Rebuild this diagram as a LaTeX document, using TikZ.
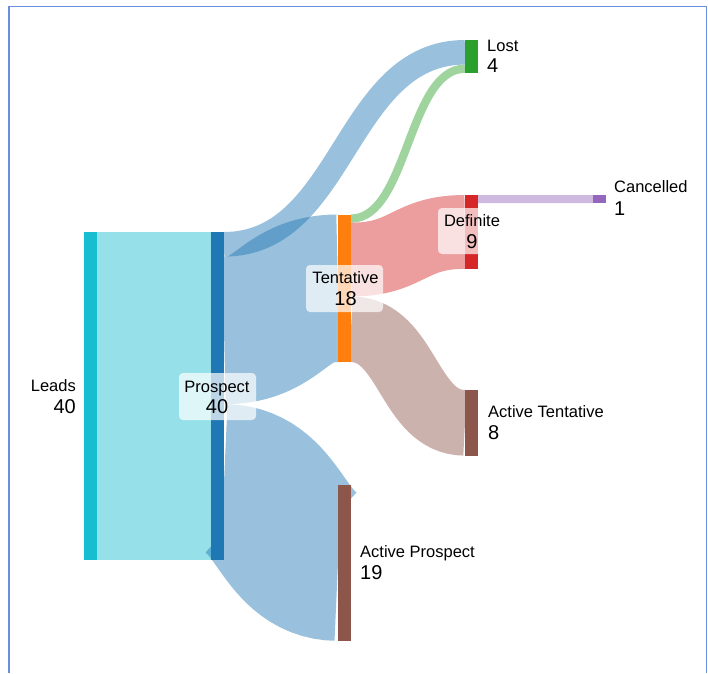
\documentclass[tikz,border=0pt]{standalone}
\usepackage{fontspec}
\setmainfont{Liberation Sans}
\usetikzlibrary{calc}
\definecolor{cLeads}{HTML}{17BECF}
\definecolor{cPros}{HTML}{1F77B4}
\definecolor{cLost}{HTML}{2CA02C}
\definecolor{cTent}{HTML}{FF7F0E}
\definecolor{cDef}{HTML}{D62728}
\definecolor{cCanc}{HTML}{9467BD}
\definecolor{cBrown}{HTML}{8C564B}
\definecolor{cFrame}{HTML}{6A8FDC}
% link: colour, width, source node, position on source, target node, position on target
\newcommand\sankeylink[6]{%
  \path let \p1=($(#3.north east)!#4!(#3.south east)$),
            \p2=($(#5.north west)!#6!(#5.south west)$),
            \p3=($(\p1)!0.5!(\p2)$) in
     [link, draw=#1, line width=#2] (\p1) .. controls (\x3,\y1) and (\x3,\y2) .. (\p2);}
\tikzset{
  bar/.style={rectangle, inner sep=0pt, outer sep=0pt, minimum width=13pt, draw=none},
  link/.style={fill=none, draw opacity=0.45, line cap=butt},
  lblbox/.style={rectangle, rounded corners=4pt, fill=white, fill opacity=0.7, draw=none, inner sep=0pt},
  namelbl/.style={font=\fontsize{16.5}{19}\selectfont, inner sep=0pt, text=black},
  vallbl/.style={font=\fontsize{20}{23}\selectfont, inner sep=0pt, text=black},
  frame/.style={draw=cFrame, line width=1.8pt}
}
\begin{document}
\begin{tikzpicture}[x=1pt,y=-1pt]
\useasboundingbox[fill=white] (0,0) rectangle (708,673);
\draw[frame] (9,673) -- (9,6.5) -- (706.5,6.5) -- (706.5,673);
% bars
\node[bar, fill=cLeads, minimum height=328pt] (leads) at (90.5,396) {};
\node[bar, fill=cPros, minimum height=328pt] (pros) at (217.5,396) {};
\node[bar, fill=cLost, minimum height=32.8pt] (lost) at (471.5,56.4) {};
\node[bar, fill=cTent, minimum height=147.6pt] (tent) at (344.5,288.3) {};
\node[bar, fill=cDef, minimum height=73.8pt] (def) at (471.5,231.9) {};
\node[bar, fill=cCanc, minimum height=8.2pt] (canc) at (599.5,199.1) {};
\node[bar, fill=cBrown, minimum height=65.6pt] (acttent) at (471.5,422.8) {};
\node[bar, fill=cBrown, minimum height=155.8pt] (actpros) at (344.5,562.9) {};
% links
\sankeylink{cLeads}{328pt}{leads}{0.5}{pros}{0.5}
\sankeylink{cPros}{24.6pt}{pros}{0.0375}{lost}{0.375}
\sankeylink{cPros}{147.6pt}{pros}{0.3}{tent}{0.5}
\sankeylink{cPros}{155.8pt}{pros}{0.7625}{actpros}{0.5}
\sankeylink{cLost}{8.2pt}{tent}{0.02778}{lost}{0.875}
\sankeylink{cDef}{73.8pt}{tent}{0.30556}{def}{0.5}
\sankeylink{cBrown}{65.6pt}{tent}{0.77778}{acttent}{0.5}
\sankeylink{cCanc}{8.2pt}{def}{0.05556}{canc}{0.5}
% redraw bars on top of links
\fill[cLeads] (leads.north west) rectangle (leads.south east);
\fill[cPros] (pros.north west) rectangle (pros.south east);
\fill[cLost] (lost.north west) rectangle (lost.south east);
\fill[cTent] (tent.north west) rectangle (tent.south east);
\fill[cDef] (def.north west) rectangle (def.south east);
\fill[cCanc] (canc.north west) rectangle (canc.south east);
\fill[cBrown] (acttent.north west) rectangle (acttent.south east);
\fill[cBrown] (actpros.north west) rectangle (actpros.south east);
% label boxes
\node[lblbox, minimum width=77pt, minimum height=47pt] (prosbox) at (217.5,396.5) {};
\node[lblbox, minimum width=77pt, minimum height=47pt] (tentbox) at (344.5,288.5) {};
\node[lblbox, minimum width=67pt, minimum height=46pt] (defbox) at (471.5,231) {};
% labels
\node[namelbl, anchor=base east] (leadsN) at (76,391) {Leads};
\node[vallbl, anchor=base east] (leadsV) at (76,413) {40};
\node[namelbl, anchor=base] (prosN) at (217,392) {Prospect};
\node[vallbl, anchor=base] (prosV) at (217,413) {40};
\node[namelbl, anchor=base] (tentN) at (345.5,283) {Tentative};
\node[vallbl, anchor=base] (tentV) at (345.5,305) {18};
\node[namelbl, anchor=base] (defN) at (472,226) {Definite};
\node[vallbl, anchor=base] (defV) at (472,248) {9};
\node[namelbl, anchor=base west] (lostN) at (487,51) {Lost};
\node[vallbl, anchor=base west] (lostV) at (487,72) {4};
\node[namelbl, anchor=base west] (cancN) at (614,192) {Cancelled};
\node[vallbl, anchor=base west] (cancV) at (614,215) {1};
\node[namelbl, anchor=base west] (acttentN) at (488,417) {Active Tentative};
\node[vallbl, anchor=base west] (acttentV) at (488,439) {8};
\node[namelbl, anchor=base west] (actprosN) at (360,557) {Active Prospect};
\node[vallbl, anchor=base west] (actprosV) at (360,579) {19};
\end{tikzpicture}
\end{document}
